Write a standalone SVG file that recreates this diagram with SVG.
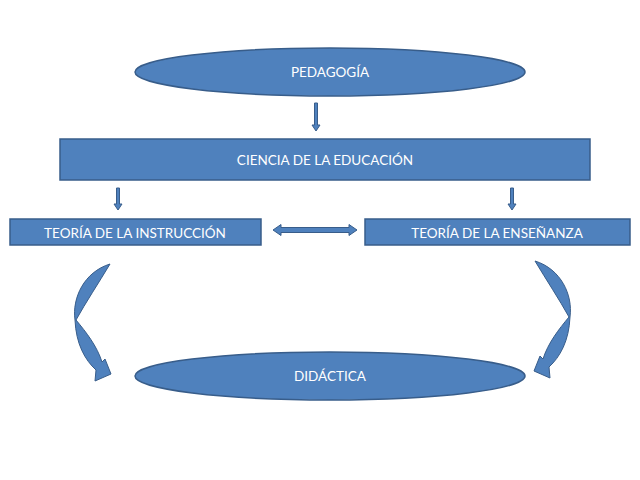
<svg xmlns="http://www.w3.org/2000/svg" width="640" height="480" viewBox="0 0 640 480">
<style>
.n{fill:#4F81BD;stroke:#385D8A;stroke-width:1.5}
.c{fill:#4F81BD;stroke:#385D8A;stroke-width:1}
.t{font-family:"Lato","Liberation Sans",sans-serif;font-size:13.5px;fill:#FFFFFF;text-anchor:middle;dominant-baseline:central}
</style>
<rect width="640" height="480" fill="#FFFFFF"/>
<g id="connectors">
<polygon class="c" points="314.5,103 317.5,103 317.5,125 320,125 316,131 312,125 314.5,125"/>
<polygon class="c" points="116.5,188 119.5,188 119.5,204 122,204 118,210 114,204 116.5,204"/>
<polygon class="c" points="510.5,188 513.5,188 513.5,204 516,204 512,210 508,204 510.5,204"/>
<polygon class="c" points="273,230 281,224.5 281,227.5 349,227.5 349,224.5 357,230 349,235.5 349,232.5 281,232.5 281,235.5"/>
<path id="curveLeft" class="c" d="M110,264 C84,272 72,298 75,320 C76,344 85,360 96,370 L95,381 L111,374 L105,359 L102,362 C97,346 86,332 76,320 C86,302 98,284 110,264 Z"/>
<path id="curveRight" class="c" transform="translate(645,-3) scale(-1,1)" d="M110,264 C84,272 72,298 75,320 C76,344 85,360 96,370 L95,381 L111,374 L105,359 L102,362 C97,346 86,332 76,320 C86,302 98,284 110,264 Z"/>
</g>
<g id="pedagogia">
<ellipse class="n" cx="330" cy="72" rx="195" ry="24"/>
<text class="t" x="330" y="72">PEDAGOGÍA</text>
</g>
<g id="ciencia">
<rect class="n" x="60" y="139" width="530" height="41"/>
<text class="t" x="325" y="160">CIENCIA DE LA EDUCACIÓN</text>
</g>
<g id="instruccion">
<rect class="n" x="10" y="219" width="251" height="26"/>
<text class="t" x="135" y="233">TEORÍA DE LA INSTRUCCIÓN</text>
</g>
<g id="ensenanza">
<rect class="n" x="365" y="219" width="265" height="26"/>
<text class="t" x="497" y="233">TEORÍA DE LA ENSEÑANZA</text>
</g>
<g id="didactica">
<ellipse class="n" cx="330" cy="376" rx="195" ry="24"/>
<text class="t" x="330" y="376">DIDÁCTICA</text>
</g>
</svg>
